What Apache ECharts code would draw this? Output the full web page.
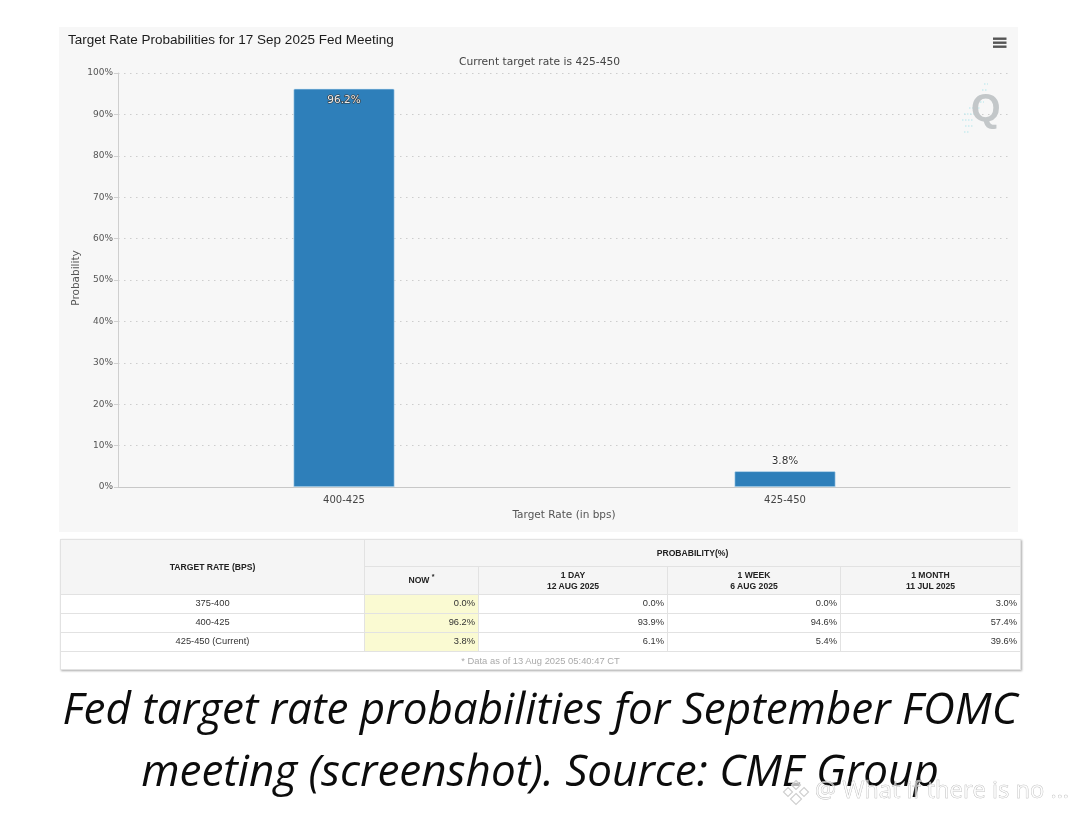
<!DOCTYPE html>
<html>
<head>
<meta charset="utf-8">
<script src="https://cdn.jsdelivr.net/npm/echarts@6/dist/echarts.min.js"></script>
<style>
html,body{margin:0;padding:0;background:#fff;width:1080px;height:817px;overflow:hidden}
#c{position:absolute;left:0;top:0;width:1080px;height:817px}
#t{position:absolute;left:60px;top:539px;width:960px;height:130px;border-collapse:collapse;table-layout:fixed;
 font:9.3px "Liberation Sans",Arial,sans-serif;color:#333;box-shadow:1px 1px 2px #aaa}
#t td,#t th{border:1px solid #e2e2e2;padding:0 3px;overflow:hidden;line-height:11px}
#t th{background:#f5f5f5;color:#222;font-size:8.6px;font-weight:bold;text-align:center}
#t td{text-align:right;background:#fff}
#t td.k{text-align:center}
#t td.n{background:#fafad2}
#t td.f{text-align:center;color:#aaa;font-size:9.4px}
#t sup{font-size:7px;line-height:0}
#cap{position:absolute;left:0;top:677px;width:1080px;text-align:center;font:italic 44px/61.5px "Open Sans",sans-serif;color:#0c0c0c}
#c2{position:absolute;left:0;top:0;width:1080px;height:817px;pointer-events:none}
</style>
</head>
<body>
<div id="c"></div>
<table id="t"></table>
<div id="cap">Fed target rate probabilities for September FOMC<br>meeting (screenshot). Source: CME Group</div>
<div id="c2"></div>
<script>
const categories = ['400-425', '425-450'];
const probabilities = [96.2, 3.8];
const yTicks = [0, 10, 20, 30, 40, 50, 60, 70, 80, 90, 100];
const tableRates = ['375-400', '400-425', '425-450 (Current)'];
const tableNow = ['0.0%', '96.2%', '3.8%'];
const tableDay = ['0.0%', '93.9%', '6.1%'];
const tableWeek = ['0.0%', '94.6%', '5.4%'];
const tableMonth = ['3.0%', '57.4%', '39.6%'];
const tableHeads = [['1 DAY', '12 AUG 2025'], ['1 WEEK', '6 AUG 2025'], ['1 MONTH', '11 JUL 2025']];
const colWidths = [304, 114, 189, 173, 180];
const rowHeights = [27, 28, 18.5, 19, 19, 18.5];

const labelFont = 'DejaVu Sans';
const chart = echarts.init(document.getElementById('c'));
const yAxisBase = { type: 'value', min: 0, max: 100, interval: 10 };

// pale fan behind the Q logo: [x, y, length]
const logoFan = [[984,84,4],[982,90,5],[979,96,7],[974,102,10],[969,108,12],[964,114,13],[962,120,12],[965,126,9],[964,132,5]];
const logoMarks = logoFan.map(f => ({
  type: 'line', silent: true, z: 9,
  shape: { x1: f[0], y1: f[1], x2: f[0] + f[2], y2: f[1] },
  style: { stroke: '#c9ebf0', lineWidth: 1.5, lineDash: [1.5, 1.5] }
}));

chart.setOption({
  animation: false,
  backgroundColor: '#fff',
  title: [
    { text: 'Target Rate Probabilities for 17 Sep 2025 Fed Meeting', left: 68, top: 33.5, padding: 0,
      textStyle: { fontFamily: 'Liberation Sans', fontSize: 13.5, fontWeight: 'normal', color: '#1c1c1c' } },
    { text: 'Current target rate is 425-450', left: 539.5, top: 56.5, padding: 0, textAlign: 'center',
      textStyle: { fontFamily: labelFont, fontSize: 10.7, fontWeight: 'normal', color: '#444' } }
  ],
  grid: [
    { left: 118, right: 70, top: 73, height: 414 },
    { left: 123.5, right: 74.5, top: 73, height: 414 }
  ],
  xAxis: [
    { gridIndex: 0, type: 'category', data: [''], axisTick: { show: false }, axisLabel: { show: false },
      axisLine: { lineStyle: { color: '#c8c8c8', width: 1 } }, name: 'Target Rate (in bps)', nameLocation: 'middle', nameGap: 23,
      nameTextStyle: { fontFamily: labelFont, fontSize: 10.5, color: '#555' } },
    { gridIndex: 1, type: 'category', data: categories, axisLine: { show: false }, axisTick: { show: false },
      axisLabel: { margin: 8, fontFamily: labelFont, fontSize: 10, color: '#444' } }
  ],
  yAxis: [
    Object.assign({}, yAxisBase, { gridIndex: 0,
      axisLine: { show: true, lineStyle: { color: '#cfcfcf' } },
      axisTick: { show: true, length: 4, lineStyle: { color: '#cfcfcf' } },
      axisLabel: { margin: 5, padding: [4, 0, 0, 0], fontFamily: labelFont, fontSize: 9, color: '#555',
        formatter: v => yTicks.includes(v) ? v + '%' : '' },
      splitLine: { show: true, lineStyle: { color: '#cdcdcd', type: [1.5, 4.5], width: 1 } } }),
    Object.assign({}, yAxisBase, { gridIndex: 1, show: false })
  ],
  series: [{
    type: 'bar', xAxisIndex: 1, yAxisIndex: 1, barWidth: 101, z: 5,
    data: probabilities.map(v => ({
      value: v,
      label: v > 50
        ? { show: true, position: 'insideTop', distance: 6, color: '#eee', textBorderColor: '#333', textBorderWidth: 1.2 }
        : { show: true, position: 'top', distance: 5, color: '#333', textBorderColor: '#fff', textBorderWidth: 1.5 }
    })),
    label: { fontFamily: labelFont, fontSize: 10.5, formatter: p => p.value + '%' },
    itemStyle: { color: '#2e7fba', borderColor: '#cfe6f5', borderWidth: 0.6, borderRadius: [1, 1, 0, 0] }
  }],
  graphic: [
    { type: 'rect', silent: true, z: -10, shape: { x: 59, y: 27, width: 959, height: 505 }, style: { fill: '#f7f7f7' } },
    { type: 'rect', silent: true, z: 10, shape: { x: 993, y: 37.5, width: 13.5, height: 2.4 }, style: { fill: '#555' } },
    { type: 'rect', silent: true, z: 10, shape: { x: 993, y: 41.5, width: 13.5, height: 2.4 }, style: { fill: '#555' } },
    { type: 'rect', silent: true, z: 10, shape: { x: 993, y: 45.5, width: 13.5, height: 2.4 }, style: { fill: '#555' } },
    { type: 'text', silent: true, z: 10, x: 971, y: 92, style: { text: 'Q', fontFamily: 'Liberation Sans', fontWeight: 'bold', fontSize: 38, fill: '#c3c7c9' } },
    { type: 'text', silent: true, z: 10, x: 76, y: 278, rotation: Math.PI / 2,
      style: { text: 'Probability', fontFamily: labelFont, fontSize: 10.5, fill: '#555', align: 'center', verticalAlign: 'middle' } }
  ].concat(logoMarks)
});

// Table built from the arrays above
const t = document.getElementById('t');
let html = '<colgroup>' + colWidths.map(w => `<col style="width:${w}px">`).join('') + '</colgroup>';
html += `<tr style="height:${rowHeights[0]}px"><th rowspan="2">TARGET RATE (BPS)</th><th colspan="4">PROBABILITY(%)</th></tr>`;
html += `<tr style="height:${rowHeights[1]}px"><th>NOW <sup>*</sup></th>` + tableHeads.map(h => `<th>${h[0]}<br>${h[1]}</th>`).join('') + '</tr>';
tableRates.forEach((r, i) => {
  html += `<tr style="height:${rowHeights[2 + i]}px"><td class="k">${r}</td><td class="n">${tableNow[i]}</td><td>${tableDay[i]}</td><td>${tableWeek[i]}</td><td>${tableMonth[i]}</td></tr>`;
});
html += `<tr style="height:${rowHeights[5]}px"><td class="f" colspan="5">* Data as of 13 Aug 2025 05:40:47 CT</td></tr>`;
t.innerHTML = html;

// Overlaid platform watermark
const diamond = (cx, cy, r) => ({ type: 'polygon', silent: true,
  shape: { points: [[cx, cy - r], [cx + r, cy], [cx, cy + r], [cx - r, cy]] },
  style: { fill: 'rgba(255,255,255,0.7)', stroke: '#d0d0d0', lineWidth: 1.2 } });
const wm = echarts.init(document.getElementById('c2'));
wm.setOption({
  animation: false,
  graphic: [
    { type: 'text', silent: true, x: 815, y: 779, style: { text: '@ What if there is no ...', fontFamily: 'Open Sans', fontSize: 23.7, fill: 'rgba(255,255,255,0.6)', stroke: '#aaaaaa', lineWidth: 0.5 } },
    diamond(796, 785, 4.5), diamond(788, 792, 4.5), diamond(804, 792, 4.5), diamond(796, 799, 5.5)
  ]
});
</script>
</body>
</html>
